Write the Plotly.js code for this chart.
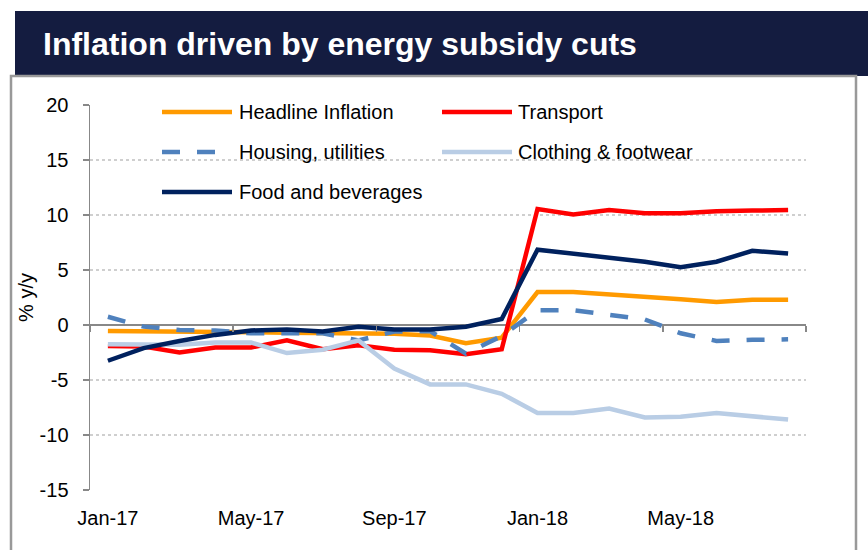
<!DOCTYPE html>
<html>
<head>
<meta charset="utf-8">
<script src="https://cdn.plot.ly/plotly-3.0.1.min.js"></script>
<style>html,body{margin:0;padding:0;background:#fff;}#chart{width:868px;height:550px;}</style>
</head>
<body>
<div id="chart"></div>
<script>
// ---- data ----
const months = ["Jan-17","Feb-17","Mar-17","Apr-17","May-17","Jun-17","Jul-17","Aug-17","Sep-17","Oct-17","Nov-17","Dec-17",
                "Jan-18","Feb-18","Mar-18","Apr-18","May-18","Jun-18","Jul-18","Aug-18"];
const tickLabels = ["Jan-17","May-17","Sep-17","Jan-18","May-18"];
const yTickValues = [-15,-10,-5,0,5,10,15,20];
const yTickLabels = ["-15","-10","-5","0","5","10","15","20"];
const headline = [-0.55,-0.55,-0.6,-0.65,-0.65,-0.7,-0.7,-0.75,-0.8,-0.95,-1.65,-1.15,3.0,3.0,2.8,2.65,2.35,2.1,2.3,2.3];
const transport = [-1.9,-1.95,-2.5,-2.05,-2.05,-1.4,-2.2,-1.85,-2.25,-2.3,-2.65,-2.2,10.55,10.05,10.45,10.15,10.15,10.35,10.4,10.45];
const housing = [0.75,-0.15,-0.45,-0.5,-0.75,-0.75,-0.75,-1.4,-0.6,-0.55,-2.6,-1.0,1.35,1.35,0.95,0.5,-0.75,-1.45,-1.35,-1.3];
const clothing = [-1.75,-1.8,-1.8,-1.6,-1.6,-2.55,-2.25,-1.4,-3.95,-5.4,-5.4,-6.25,-8.0,-8.0,-7.6,-8.4,-8.35,-8.0,-8.25,-8.6];
const food = [-3.25,-2.1,-1.45,-0.9,-0.5,-0.4,-0.6,-0.15,-0.4,-0.4,-0.15,0.55,6.85,6.5,6.05,5.75,5.25,5.75,6.75,6.5];
const seriesNames = ["Headline Inflation","Transport","Housing, utilities","Clothing & footwear","Food and beverages"];
const seriesData = [headline, transport, housing, clothing, food];

// ---- styles ----
const colors = ["#FF9A00","#FF0000","#4F81BD","#B9CDE5","#00215E"];
const dashes = ["solid","solid","18px,17px","solid","solid"];
const FONT = "Liberation Sans, Arial, sans-serif";

// plot area in pixels
const W = 868, H = 550;
const L = 90, R = 806, T = 105, B = 490;
const px2x = p => (p - L) / (R - L);
const px2y = p => (B - p) / (B - T);

const idx = months.map((_, i) => i);
const tickIdx = tickLabels.map(t => months.indexOf(t));
const boundaryIdx = tickIdx.map(i => i - 0.5).concat([months.length - 0.5]);

const traces = seriesData.map((d, k) => ({
  type: "scatter", mode: "lines", x: idx, y: d, name: seriesNames[k],
  line: {color: colors[k], width: 4.5, dash: dashes[k]}, showlegend: false, hoverinfo: "skip"
}));
traces.push({type: "scatter", mode: "lines", x: [null], y: [null], xaxis: "x2", yaxis: "y", showlegend: false, hoverinfo: "skip"});

const yMin = yTickValues[0], yMax = yTickValues[yTickValues.length - 1];

// manual legend
const legCols = [{lx0: 162, lx1: 232, tx: 237}, {lx0: 442, lx1: 512, tx: 516}];
const legRows = [112, 152, 192];
const shapes = [];
const annotations = [];
seriesNames.forEach((n, k) => {
  const c = legCols[k % 2], r = legRows[Math.floor(k / 2)];
  shapes.push({type: "line", xref: "paper", yref: "paper", x0: px2x(c.lx0), x1: px2x(c.lx1), y0: px2y(r), y1: px2y(r),
    line: {color: colors[k], width: 4.5, dash: dashes[k]}});
  annotations.push({xref: "paper", yref: "paper", x: px2x(c.tx), y: px2y(r), xanchor: "left", yanchor: "middle",
    text: n, showarrow: false, font: {family: FONT, size: 20, color: "#000"}});
});
// title bar + frame
shapes.push({type: "rect", xref: "paper", yref: "paper", x0: px2x(15), x1: px2x(880), y0: px2y(76), y1: px2y(11),
  fillcolor: "#141C40", line: {width: 0}, layer: "below"});
shapes.push({type: "rect", xref: "paper", yref: "paper", x0: px2x(11), x1: px2x(856), y0: px2y(580), y1: px2y(76),
  fillcolor: "rgba(0,0,0,0)", line: {color: "#999999", width: 2.5}, layer: "above"});

const layout = {
  width: W, height: H,
  margin: {l: L, r: W - R, t: T, b: H - B, pad: 0},
  paper_bgcolor: "#fff", plot_bgcolor: "#fff",
  font: {family: FONT, size: 20, color: "#000"},
  title: {text: "Inflation driven by energy subsidy cuts", xref: "container", yref: "container",
    x: 43 / W, xanchor: "left", y: 1 - 44 / H, yanchor: "middle",
    font: {family: FONT, size: 32, color: "#fff", weight: 700}},
  xaxis: {range: [-0.5, months.length - 0.5], tickvals: tickIdx, ticktext: tickLabels, ticks: "",
    showline: false, showgrid: false, zeroline: false, ticklabelstandoff: 14,
    tickfont: {family: FONT, size: 20, color: "#000"}, fixedrange: true},
  xaxis2: {overlaying: "x", anchor: "free", position: (0 - yMin) / (yMax - yMin), range: [-0.5, months.length - 0.5],
    tickvals: boundaryIdx, ticks: "outside", ticklen: 6, tickwidth: 1.5, tickcolor: "#888", showticklabels: false,
    showline: false, showgrid: false, zeroline: false},
  yaxis: {range: [yMin, yMax], tickmode: "array", tickvals: yTickValues, ticktext: yTickLabels,
    showline: true, linecolor: "#888", linewidth: 1.5,
    ticks: "outside", ticklen: 6, tickwidth: 1.5, tickcolor: "#888",
    showgrid: true, gridcolor: "#cfcfcf", gridwidth: 1.5, griddash: "dot",
    zeroline: true, zerolinecolor: "#888", zerolinewidth: 1.5, ticklabelstandoff: 10,
    tickfont: {family: FONT, size: 20, color: "#000"},
    title: {text: "% y/y", standoff: 0, font: {family: FONT, size: 20, color: "#000"}}},
  shapes: shapes, annotations: annotations, showlegend: false
};

Plotly.newPlot("chart", traces, layout, {staticPlot: true, displayModeBar: false});
</script>
</body>
</html>
